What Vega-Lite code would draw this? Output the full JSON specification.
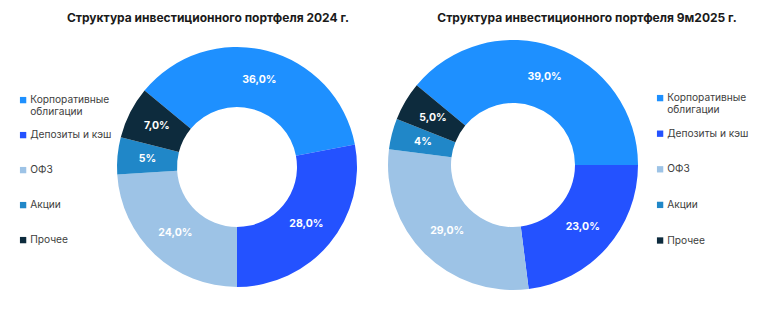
{
  "$schema": "https://vega.github.io/schema/vega-lite/v6.json",
  "padding": {"top": 12, "left": 18, "right": 0, "bottom": 0},
  "bounds": "flush",
  "spacing": 0,
  "background": "white",
  "config": {"view": {"stroke": null}, "font": "Inter"},
  "datasets": {
    "d": [
      {"chart": "2024", "cat": "Корпоративные облигации", "value": 36, "label": "36,0%", "ord": 1},
      {"chart": "2024", "cat": "Депозиты и кэш", "value": 28, "label": "28,0%", "ord": 2},
      {"chart": "2024", "cat": "ОФЗ", "value": 24, "label": "24,0%", "ord": 3},
      {"chart": "2024", "cat": "Акции", "value": 5, "label": "5%", "ord": 4},
      {"chart": "2024", "cat": "Прочее", "value": 7, "label": "7,0%", "ord": 5},
      {"chart": "9m2025", "cat": "Корпоративные облигации", "value": 39, "label": "39,0%", "ord": 1},
      {"chart": "9m2025", "cat": "Депозиты и кэш", "value": 23, "label": "23,0%", "ord": 2},
      {"chart": "9m2025", "cat": "ОФЗ", "value": 29, "label": "29,0%", "ord": 3},
      {"chart": "9m2025", "cat": "Акции", "value": 4, "label": "4%", "ord": 4},
      {"chart": "9m2025", "cat": "Прочее", "value": 5, "label": "5,0%", "ord": 5}
    ]
  },
  "resolve": {"scale": {"color": "independent", "theta": "independent"}, "legend": {"color": "independent"}},
  "hconcat": [
    {
      "width": 274,
      "height": 274,
      "title": {"text": "Структура инвестиционного портфеля 2024 г.", "frame": "group", "anchor": "middle", "dx": -29, "offset": 5, "fontSize": 12, "fontWeight": "bold", "color": "#1a1a1a"},
      "data": {"name": "d"},
      "transform": [{"filter": "datum.chart == '2024'"}],
      "encoding": {
        "theta": {"field": "value", "type": "quantitative", "stack": true, "scale": {"range": [-0.8796, 5.4036]}},
        "order": {"field": "ord", "type": "quantitative"},
        "color": {
          "field": "cat", "type": "nominal",
          "scale": {"domain": ["Корпоративные облигации", "Депозиты и кэш", "ОФЗ", "Акции", "Прочее"], "range": ["#1E90FF", "#2452FF", "#9DC3E6", "#2087C8", "#0D2B3D"]},
          "legend": {"orient": "none", "legendX": -82, "legendY": 65, "title": null, "symbolType": "square", "symbolSize": 40, "symbolStrokeWidth": 0, "labelFontSize": 10.2, "labelColor": "#404040", "labelOffset": 2, "rowPadding": 12, "labelLimit": 200,
            "labelExpr": "datum.label == 'Корпоративные облигации' ? ['Корпоративные', 'облигации'] : [datum.label, ' ']"}
        }
      },
      "layer": [
        {"mark": {"type": "arc", "outerRadius": 120, "innerRadius": 60}},
        {"mark": {"type": "text", "radius": 90, "fontSize": 10.5, "fontWeight": "bold"}, "encoding": {"text": {"field": "label"}, "color": {"value": "white"}}}
      ]
    },
    {
      "width": 278,
      "height": 270,
      "title": {"text": "Структура инвестиционного портфеля 9м2025 г.", "frame": "group", "anchor": "middle", "dx": 74, "offset": 5, "fontSize": 12, "fontWeight": "bold", "color": "#1a1a1a"},
      "data": {"name": "d"},
      "transform": [{"filter": "datum.chart == '9m2025'"}],
      "encoding": {
        "theta": {"field": "value", "type": "quantitative", "stack": true, "scale": {"range": [-0.8796, 5.4036]}},
        "order": {"field": "ord", "type": "quantitative"},
        "color": {
          "field": "cat", "type": "nominal",
          "scale": {"domain": ["Корпоративные облигации", "Депозиты и кэш", "ОФЗ", "Акции", "Прочее"], "range": ["#1E90FF", "#2452FF", "#9DC3E6", "#2087C8", "#0D2B3D"]},
          "legend": {"orient": "none", "legendX": 281, "legendY": 63, "title": null, "symbolType": "square", "symbolSize": 40, "symbolStrokeWidth": 0, "labelFontSize": 10.2, "labelColor": "#404040", "labelOffset": 2, "rowPadding": 12.6, "labelLimit": 200,
            "labelExpr": "datum.label == 'Корпоративные облигации' ? ['Корпоративные', 'облигации'] : [datum.label, ' ']"}
        }
      },
      "layer": [
        {"mark": {"type": "arc", "outerRadius": 125, "innerRadius": 62}},
        {"mark": {"type": "text", "radius": 93, "fontSize": 10.5, "fontWeight": "bold"}, "encoding": {"text": {"field": "label"}, "color": {"value": "white"}}}
      ]
    }
  ]
}
